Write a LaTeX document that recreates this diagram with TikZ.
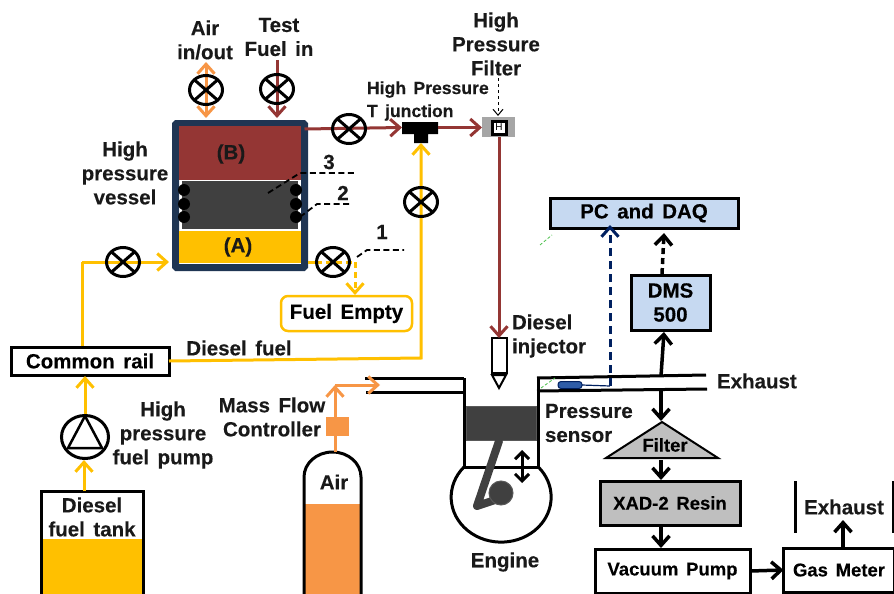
\documentclass[tikz,border=0pt]{standalone}
\usepackage{fontspec}
\setmainfont[WordSpace=1.5,BoldFeatures={FakeBold=0.25}]{Liberation Sans}
\usetikzlibrary{arrows.meta,shapes.geometric,calc}
\definecolor{fuelY}{HTML}{FFC000}
\definecolor{brownF}{HTML}{943634}
\definecolor{orangeA}{HTML}{F79646}
\definecolor{navyV}{HTML}{1F3553}
\definecolor{darkP}{HTML}{404040}
\definecolor{blueB}{HTML}{C6D9F1}
\definecolor{navyS}{HTML}{002060}
\definecolor{blueS}{HTML}{2F5DA8}
\definecolor{greyF}{HTML}{BFBFBF}
\tikzset{
  every node/.style={inner sep=0pt,outer sep=0pt},
  txt/.style={font=\fontsize{20.5}{24}\selectfont\bfseries,align=center,text=black!90},
  txts/.style={font=\fontsize{17.6}{23}\selectfont\bfseries,align=center,text=black!90},
  box/.style={draw=black,line width=3pt,align=center},
  valve/.style={ellipse,draw=black,line width=3pt,minimum width=33pt,minimum height=29pt,
    path picture={\draw[black,line width=3pt]
      (path picture bounding box.north west)--(path picture bounding box.south east)
      (path picture bounding box.north east)--(path picture bounding box.south west);}},
  tip/.style={-{Straight Barb[length=9.5pt,width=17pt]}},
  yl/.style={draw=fuelY,line width=3pt},
  yla/.style={yl,tip},
  br/.style={draw=brownF,line width=3pt},
  bra/.style={br,tip},
  orl/.style={draw=orangeA,line width=3pt},
  bk/.style={draw=black,line width=3pt},
  bka/.style={draw=black,line width=3.5pt,tip},
  lbl/.style={draw=black,line width=1.8pt,dash pattern=on 6pt off 3.5pt},
  ball/.style={circle,fill=black,minimum size=12pt},
  grn/.style={draw=green!65!black!70,line width=.8pt,dash pattern=on 3pt off 2pt},
}
\begin{document}
\begin{tikzpicture}[x=1pt,y=-1pt]
\useasboundingbox (0,0) rectangle (894,594);
\fill[white] (0,0) rectangle (894,594);

% vessel
\node[draw=navyV,line width=7pt,rounded corners=1pt,minimum width=129pt,minimum height=144pt] (vessel) at (240,195.5) {};
\fill[brownF] (179,126) rectangle (301,180);
\fill[fuelY] (179,231) rectangle (301,263);
\fill[darkP] (182,181) rectangle (298,229);
\draw[white,line width=1.2pt] (180.5,180.5) rectangle (299.5,230.5);
\foreach \n/\y in {1/190,2/204,3/217}{
  \node[ball] (bl\n) at (184,\y) {};
  \node[ball] (br\n) at (296,\y) {};
}
\node[txt] (B) at (231,154) {(B)};
\node[txt] (A) at (238,247) {(A)};

% valves positions
\coordinate (vA) at (206,90);
\coordinate (vT) at (277,89);
\coordinate (vO) at (349,129);
\coordinate (vD) at (421,202);
\coordinate (vE) at (333,262);
\coordinate (vL) at (123,262);

% T junction and filter
\fill[black] (402,122) rectangle (438,134) (414,134) rectangle (428,143);
\coordinate (tw) at (402,127.5);
\coordinate (te) at (438,127.5);
\coordinate (ts) at (421,143);
\node[fill=black!35,minimum width=33pt,minimum height=20pt] (flt) at (498.5,127) {};
\node[draw=black,fill=white,line width=3pt,minimum width=14pt,minimum height=13pt,font=\fontsize{10}{10}\selectfont] (fltH) at (499,127.5) {H};

% boxes
\node[box,minimum width=158pt,minimum height=28pt,font=\fontsize{20.5}{24}\selectfont\bfseries] (rail) at (90,361) {Common rail};
\node[draw=fuelY,line width=2.5pt,rounded corners=7pt,minimum width=131pt,minimum height=35pt,font=\fontsize{20.5}{24}\selectfont\bfseries] (empty) at (346.5,313.5) {Fuel Empty};
\node[box,fill=blueB,minimum width=188pt,minimum height=30pt,font=\fontsize{20.5}{24}\selectfont\bfseries] (pc) at (644,213) {PC and DAQ};
\node[box,fill=blueB,minimum width=79pt,minimum height=55pt,font=\fontsize{20.5}{24}\selectfont\bfseries] (dms) at (670.5,302.5) {DMS\\500};
\node[box,fill=greyF,minimum width=140pt,minimum height=44pt,font=\fontsize{18.5}{22}\selectfont\bfseries] (xad) at (670,503) {XAD-2 Resin};
\node[box,minimum width=155pt,minimum height=44pt,font=\fontsize{18.5}{22}\selectfont\bfseries] (vac) at (672.5,571) {Vacuum Pump};
\node[box,minimum width=111pt,minimum height=44pt,font=\fontsize{18.5}{22}\selectfont\bfseries] (gas) at (839,570) {Gas Meter};
\node[isosceles triangle,isosceles triangle apex angle=110,shape border rotate=90,fill=greyF,draw=black,line width=2pt,minimum width=112pt,minimum height=36pt,isosceles triangle stretches,anchor=apex] (filt) at (662,422) {};
\node[font=\fontsize{18.5}{18}\selectfont\bfseries] (filtT) at (665,445) {Filter};

% tank
\fill[fuelY] (42,539) rectangle (142,594);
\draw[bk] (41,594) -- (41,491) -- (143,491) -- (143,594);
\coordinate (tankTop) at (84,491);
% pump
\node[ellipse,draw=black,line width=3pt,minimum width=47pt,minimum height=43pt] (pump) at (85,437) {};
\draw[black,line width=2.5pt,line join=round] (85,416) -- (102,448) -- (68,448) -- cycle;

% air bottle
\fill[orangeA] (305,504) rectangle (360,594);
\draw[bk] (304,594) -- (304,477) arc[start angle=180,end angle=0,x radius=28.5pt,y radius=25pt] -- (361,594);
\coordinate (bottleTop) at (335,452);
\node[fill=orangeA,minimum width=23pt,minimum height=19pt] (mfc) at (337.5,426.5) {};
\coordinate (airBend) at (335,385);
\coordinate (airEnd) at (380,385);

% engine
\draw[bk] (365,378) -- (464,378) (366,392) -- (464,392);
\draw[bk] (537,378) -- (706,375) (537,391) -- (707,389);
\draw[bk] (464,378) -- (464,467) -- (538,467) -- (538,378);
\draw[bk] (464,467) arc[start angle=138,end angle=402,x radius=50pt,y radius=45pt];
\fill[darkP,draw=black!65,line width=1pt] (466,406) rectangle (536,440);
\draw[darkP,line width=8pt,line cap=round,line join=round] (499,441) -- (477,506) -- (501,498);
\fill[darkP,draw=black!65,line width=1pt] (501,493) circle[radius=12pt];
\draw[bk,{Straight Barb[length=7pt,width=14pt]}-{Straight Barb[length=7pt,width=14pt]}] (522,450) -- (522,483);

% injector
\node[box,fill=white,line width=2pt,minimum width=15pt,minimum height=35pt] (inj) at (499,355.5) {};
\draw[black,line width=2pt,fill=white] (492,375) -- (506,375) -- (499,388) -- cycle;

% sensor
\node[fill=blueS,draw=navyS,line width=1pt,rounded corners=3pt,minimum width=24pt,minimum height=7pt] (sens) at (570,385) {};

% connectors
\draw[orl,{Straight Barb[length=9.5pt,width=17pt]}-{Straight Barb[length=9.5pt,width=17pt]}] (206,62) -- (206,118);
\draw[bra] (277,60) -- (277,118);
\draw[bra] (vessel.east |- vO) -- (tw);
\draw[bra] (te) -- (flt.west |- te);
\draw[bra] (499,137) -- (inj.north);
\draw[yla] (rail.east) -- (421,358) -- (ts);
\draw[yl] (82,346) -- (82,262);
\draw[yla] (82,262) -- (169,262);
\draw[yla] (85,414) -- (85,376);
\draw[yla] (tankTop) -- (84,460);
\draw[yl] (308,262) -- (316,262);
\draw[yl,dash pattern=on 6pt off 4pt] (316,262) -- (355,262);
\draw[yla,dash pattern=on 6pt off 4pt] (355,262) -- (355,295);
\draw[orl] (bottleTop) -- (mfc.north -| bottleTop);
\draw[orl,tip] (mfc.north -| bottleTop) -- (airBend);
\draw[orl,tip] (airBend) -- (airEnd);
\draw[draw=black,line width=1pt,dashed,-{Straight Barb[length=6pt,width=10pt]}] (498,78) -- (498,116);
\draw[lbl] (268,193) -- (300,173) -- (354,173);
\draw[lbl] (300,217) -- (317,204) -- (352,204);
\draw[lbl] (357,257) -- (367,250) -- (404,250);
\draw[draw=navyS,line width=1.2pt] (sens.east) -- (610,386);
\draw[draw=navyS,line width=3pt,dash pattern=on 8pt off 5pt,tip] (610,386) -- (610,225);
\draw[bka,dash pattern=on 6pt off 4pt] (662,274) -- (664,233);
\draw[bka] (661,376) -- (664,332);
\draw[bka] (661,390) -- (661,421);
\draw[bka] (661,460) -- (661,480);
\draw[bka] (661,526) -- (661,548);
\draw[bka] (vac.east) -- (gas.west);
\draw[bka] (843,547) -- (843,520);
\draw[bk] (795,481) -- (795,533);
\draw[bk] (893,481) -- (893,533);
\draw[grn] (540,245) -- (552,235) (541,388) -- (555,378);

% valves
\foreach \c in {vA,vT,vO,vD,vE,vL}{\node[valve] (valve\c) at (\c) {};}

% text
\node[txt] (t1) at (205,40) {Air\\in/out};
\node[txt] (t2) at (279,37) {Test\\Fuel in};
\node[txt] (t3) at (496,44) {High\\Pressure\\Filter};
\node[txts,align=left,anchor=west] (t4) at (367,101) {High Pressure\\T junction};
\node[txt] (t5) at (125,173) {High\\pressure\\vessel};
\node[txt] (t6) at (329,162) {3};
\node[txt] (t7) at (343,193) {2};
\node[txt] (t8) at (382,232) {1};
\node[txt] (t9) at (163,435) {High\\pressure\\fuel pump};
\node[txt] (t10) at (239,348) {Diesel fuel};
\node[txt] (t11) at (92,517) {Diesel\\fuel tank};
\node[txt] (t12) at (272,417) {Mass Flow\\Controller};
\node[txt] (t13) at (334,482) {Air};
\node[txt,align=left,anchor=west] (t14) at (512,336) {Diesel\\injector};
\node[txt,align=left,anchor=west] (t15) at (545,423) {Pressure\\sensor};
\node[txt] (t16) at (505,562) {Engine};
\node[txt,anchor=west] (t17) at (717,381) {Exhaust};
\node[txt] (t18) at (844,507) {Exhaust};
\end{tikzpicture}
\end{document}
